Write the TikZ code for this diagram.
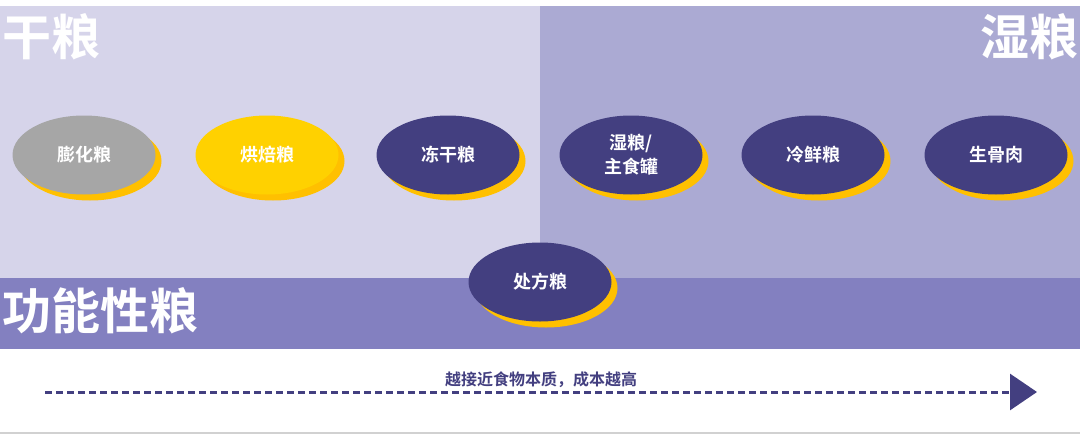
\documentclass[tikz,border=0pt]{standalone}
\usepackage{fontspec}
\setmainfont{Noto Sans CJK SC}[BoldFont={Noto Sans CJK SC Bold}]
\usetikzlibrary{shapes.geometric,shadows,arrows.meta}
\definecolor{lightbg}{HTML}{D6D4EA}
\definecolor{midbg}{HTML}{ABAAD3}
\definecolor{band}{HTML}{8380C0}
\definecolor{dark}{HTML}{433F80}
\definecolor{grayfill}{HTML}{A6A6A6}
\definecolor{yelA}{HTML}{FFD100}
\definecolor{yelB}{HTML}{FFC000}
\tikzset{
  pill/.style={ellipse, minimum width=143pt, minimum height=79pt, inner sep=0pt,
    draw=none, text=white, font=\bfseries\fontsize{18}{21}\selectfont, align=center,
    drop shadow={shadow xshift=6pt, shadow yshift=-6pt, fill=yelB, opacity=1}},
  title/.style={text=white, font=\bfseries\fontsize{49}{52}\selectfont, inner sep=0pt},
}
\begin{document}
\begin{tikzpicture}[x=1pt,y=-1pt]
\useasboundingbox (0,0) rectangle (1080,434);
\fill[white] (0,0) rectangle (1080,434);
\fill[lightbg] (0,6) rectangle (540,278);
\fill[midbg] (540,6) rectangle (1080,278);
\fill[band] (0,278) rectangle (1080,349);
\fill[black!18] (0,432) rectangle (1080,434);

\node[title, anchor=west] (dry) at (2,37) {干粮};
\node[title, anchor=east] (wet) at (1079,37) {湿粮};
\node[title, anchor=west] (func) at (2,311) {功能性粮};

\node[pill, fill=grayfill] (puff) at (84,155) {膨化粮};
\node[pill, fill=yelA] (bake) at (267,155) {烘焙粮};
\node[pill, fill=dark] (fd) at (448,155) {冻干粮};
\node[pill, fill=dark, font=\bfseries\fontsize{18}{24}\selectfont] (can) at (631,155) {湿粮/\\主食罐};
\node[pill, fill=dark] (fresh) at (813,155) {冷鲜粮};
\node[pill, fill=dark] (raw) at (996,155) {生骨肉};
\node[pill, fill=dark] (rx) at (540,282) {处方粮};

\coordinate (as) at (45,392);
\coordinate (ae) at (1037,392);
\draw[dark, line width=3pt, dash pattern=on 7pt off 4pt,
  -{Triangle[length=27pt,width=36pt]}] (as) -- (ae);
\node[text=dark, font=\bfseries\fontsize{16}{18}\selectfont, inner sep=0pt] (lbl) at (541,380) {越接近食物本质，成本越高};
\end{tikzpicture}
\end{document}
